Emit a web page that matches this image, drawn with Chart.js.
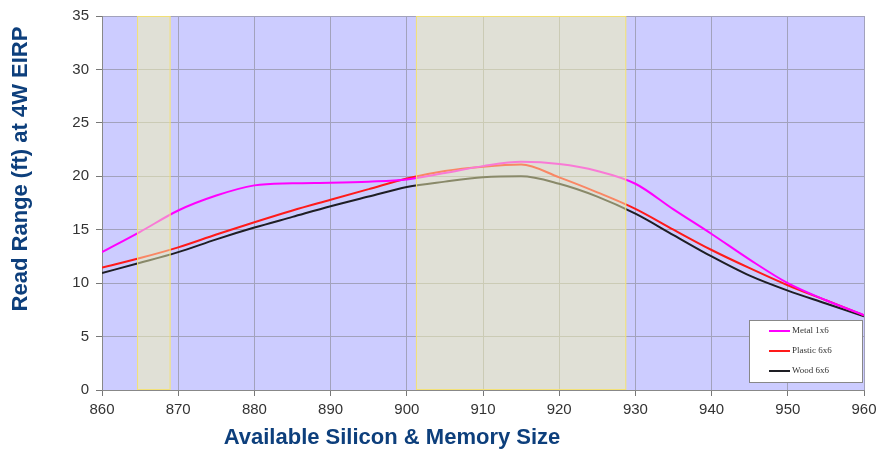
<!DOCTYPE html>
<html>
<head>
<meta charset="utf-8">
<script src="https://cdn.jsdelivr.net/npm/chart.js@4.4.1/dist/chart.umd.min.js"></script>
<style>
  html, body { margin: 0; padding: 0; background: #fff; }
  #wrap { width: 891px; height: 454px; }
</style>
</head>
<body>
<div id="wrap"><canvas id="rangeChart" width="891" height="454"></canvas></div>
<script>
// frequency (MHz) along the x axis
const freqs = [860, 865, 870, 875, 880, 885, 890, 895, 900, 905, 910, 915, 920, 925, 930, 935, 940, 945, 950, 955, 960];

// read range (ft) per tag mount
const metal   = [12.9, 14.8, 16.8, 18.2, 19.15, 19.35, 19.4, 19.5, 19.7, 20.3, 20.95, 21.35, 21.15, 20.5, 19.3, 16.9, 14.6, 12.2, 10.0, 8.4, 7.0];
const plastic = [11.45, 12.35, 13.35, 14.55, 15.7, 16.8, 17.8, 18.8, 19.8, 20.5, 20.9, 21.1, 19.9, 18.5, 16.95, 15.0, 13.1, 11.4, 9.8, 8.4, 7.0];
const wood    = [10.95, 11.9, 12.9, 14.1, 15.2, 16.2, 17.2, 18.1, 19.0, 19.5, 19.9, 20.0, 19.3, 18.1, 16.5, 14.5, 12.5, 10.7, 9.3, 8.1, 6.9];

const seriesNames = ['Metal 1x6', 'Plastic 6x6', 'Wood 6x6'];

// shaded frequency bands
const bands = [[864.6, 869], [901.2, 928.8]];

const xTitle = 'Available Silicon & Memory Size';
const yTitle = 'Read Range (ft) at 4W EIRP';

const toPoints = (vals) => vals.map((v, i) => ({ x: freqs[i], y: v }));

// blue plot background
const plotBg = {
    id: 'plotBg',
    beforeDraw(chart) {
        const { ctx, chartArea: a } = chart;
        ctx.save();
        ctx.fillStyle = '#ccccff';
        ctx.fillRect(a.left, a.top, a.right - a.left, a.bottom - a.top);
        ctx.restore();
    },
};

// translucent bands laid over the lines
const bandShade = {
    id: 'bandShade',
    afterDatasetsDraw(chart) {
        const { ctx, chartArea: a, scales } = chart;
        ctx.save();
        bands.forEach(([from, to]) => {
            const x0 = scales.x.getPixelForValue(from);
            const x1 = scales.x.getPixelForValue(to);
            ctx.fillStyle = 'rgba(244,244,173,0.5)';
            ctx.fillRect(x0, a.top, x1 - x0, a.bottom - a.top);
            ctx.strokeStyle = 'rgba(245,225,110,0.9)';
            ctx.lineWidth = 1;
            ctx.strokeRect(x0 + 0.5, a.top + 0.5, x1 - x0 - 1, a.bottom - a.top - 1);
        });
        ctx.restore();
    },
};

// titles and the small boxed legend
const extras = {
    id: 'extras',
    afterDraw(chart) {
        const { ctx } = chart;
        ctx.save();
        ctx.fillStyle = '#0d3f7c';
        ctx.font = 'bold 22px "Liberation Sans Narrow", "Liberation Sans", Arial, sans-serif';
        ctx.textAlign = 'center';
        ctx.textBaseline = 'middle';
        ctx.fillText(xTitle, 392, 438);

        ctx.translate(21, 169);
        ctx.rotate(-Math.PI / 2);
        ctx.font = 'bold 22px "Liberation Sans", Arial, sans-serif';
        ctx.fillText(yTitle, 0, 0);
        ctx.restore();

        // legend
        const lx = 749, ly = 320, lw = 113, lh = 62;
        ctx.save();
        ctx.fillStyle = '#ffffff';
        ctx.fillRect(lx, ly, lw, lh);
        ctx.strokeStyle = '#888888';
        ctx.lineWidth = 1;
        ctx.strokeRect(lx + 0.5, ly + 0.5, lw, lh);
        ctx.font = '9px "Liberation Serif", "Times New Roman", serif';
        ctx.textBaseline = 'middle';
        chart.data.datasets.forEach((ds, i) => {
            const y = ly + 11 + i * 20;
            ctx.strokeStyle = ds.borderColor;
            ctx.lineWidth = 2;
            ctx.beginPath();
            ctx.moveTo(lx + 20, y);
            ctx.lineTo(lx + 41, y);
            ctx.stroke();
            ctx.fillStyle = '#333333';
            ctx.fillText(ds.label, lx + 43, y);
        });
        ctx.restore();
    },
};

const ctx = document.getElementById('rangeChart').getContext('2d');

new Chart(ctx, {
    type: 'line',
    data: {
        datasets: [
            { label: seriesNames[0], data: toPoints(metal), borderColor: '#ff00ff' },
            { label: seriesNames[1], data: toPoints(plastic), borderColor: '#ff1a1a' },
            { label: seriesNames[2], data: toPoints(wood), borderColor: '#1e1e24' },
        ].map((d) => ({
            ...d,
            borderWidth: 2,
            pointRadius: 0,
            fill: false,
            cubicInterpolationMode: 'monotone',
        })),
    },
    options: {
        responsive: false,
        animation: false,
        layout: { padding: { top: 15, right: 27, left: 0, bottom: 0 } },
        plugins: {
            legend: { display: false },
            tooltip: { enabled: false },
        },
        scales: {
            x: {
                type: 'linear',
                min: 860,
                max: 960,
                afterFit: (s) => { s.height = 64; },
                ticks: {
                    stepSize: 10,
                    color: '#333333',
                    font: { family: '"Liberation Sans", Arial, sans-serif', size: 15 },
                    padding: 5,
                    maxRotation: 0,
                },
                grid: { color: '#a2a2bc', lineWidth: 1, tickLength: 6, tickColor: '#777777' },
                border: { color: '#888888', width: 1 },
            },
            y: {
                min: 0,
                max: 35,
                afterFit: (s) => { s.width = 102; },
                ticks: {
                    stepSize: 5,
                    color: '#333333',
                    font: { family: '"Liberation Sans", Arial, sans-serif', size: 15 },
                    padding: 7,
                },
                grid: { color: '#a2a2bc', lineWidth: 1, tickLength: 6, tickColor: '#777777' },
                border: { color: '#888888', width: 1 },
            },
        },
    },
    plugins: [plotBg, bandShade, extras],
});
</script>
</body>
</html>
